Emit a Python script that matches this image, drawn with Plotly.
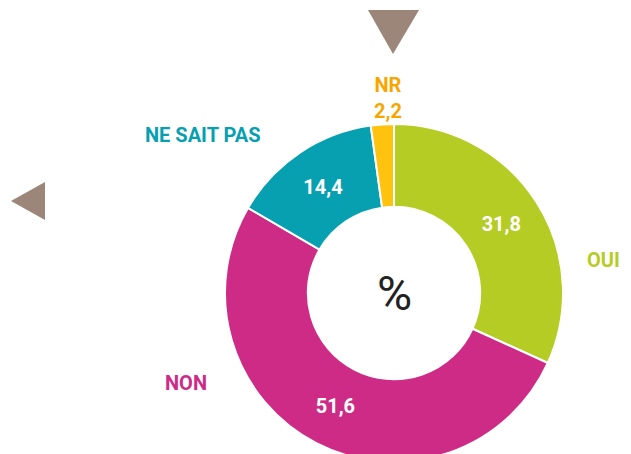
import plotly.graph_objects as go

# data
labels = ["OUI", "NON", "NE SAIT PAS", "NR"]
values = [31.8, 51.6, 14.4, 2.2]
colors = ["#B5CC24", "#CE2B87", "#07A0B1", "#FFC20E"]
label_colors = ["#B5CC24", "#CE2B87", "#07A0B1", "#F7A600"]

W, H = 631, 480
FONT = "Roboto"


def fr(v):
    return f"{v:.1f}".replace(".", ",")


fig = go.Figure(
    go.Pie(
        labels=labels,
        values=values,
        sort=False,
        direction="clockwise",
        rotation=0,
        hole=0.51,
        marker=dict(colors=colors, line=dict(color="white", width=2)),
        texttemplate=["<b>%{value:.1f}</b>"] * 3 + [""],
        textposition=["inside", "inside", "inside", "none"],
        insidetextorientation="horizontal",
        insidetextfont=dict(color="white", size=20, family=FONT),
        domain=dict(x=[225 / W, 563 / W], y=[1 - 462 / H, 1 - 124 / H]),
        showlegend=False,
        hoverinfo="label+value",
    )
)

# category labels around the ring
label_pos = {"OUI": (603, 260), "NON": (186, 383), "NE SAIT PAS": (203, 135),
             "NR": (388, 98)}
for lab, val, col in zip(labels, values, label_colors):
    px_, py_ = label_pos[lab]
    txt = f"<b>{lab}</b>" if lab != "NR" else f"<b>{lab}<br>{fr(val)}</b>"
    fig.add_annotation(
        x=px_ / W, y=1 - py_ / H, xref="paper", yref="paper",
        xanchor="center", yanchor="middle",
        text=txt, showarrow=False,
        font=dict(color=col, size=20, family=FONT),
    )

fig.add_annotation(
    x=394 / W, y=1 - 293 / H, xref="paper", yref="paper",
    xanchor="center", yanchor="middle",
    text="%", showarrow=False, font=dict(color="#222222", size=48, family=FONT),
)

# decorative arrows
def tri(pts):
    return "M " + " L ".join(f"{x / W},{1 - y / H}" for x, y in pts) + " Z"

for pts in ([(368, 10), (419, 10), (393, 54)], [(45, 182), (45, 220), (11, 201)]):
    fig.add_shape(type="path", xref="paper", yref="paper", path=tri(pts),
                  fillcolor="#9C8579", line=dict(width=0))

fig.update_layout(
    width=W, height=H,
    margin=dict(l=0, r=0, t=0, b=0),
    separators=", ",
    paper_bgcolor="white",
    font=dict(family=FONT),
)

fig.write_html(
    "out.html",
    config={"displayModeBar": False},
    post_script="document.body.style.margin='0';document.body.style.overflow='hidden';",
)
